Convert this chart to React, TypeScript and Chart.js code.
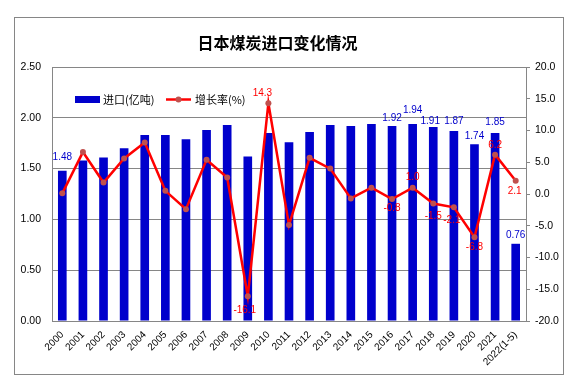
import React, { useEffect, useRef } from "react";
import { Chart, registerables } from "chart.js";

Chart.register(...registerables);

const categories = [
  "2000", "2001", "2002", "2003", "2004", "2005", "2006", "2007", "2008", "2009",
  "2010", "2011", "2012", "2013", "2014", "2015", "2016", "2017", "2018", "2019",
  "2020", "2021", "2022(1-5)",
];
const importValues = [
  1.48, 1.58, 1.61, 1.70, 1.83, 1.83, 1.79, 1.88, 1.93, 1.62,
  1.85, 1.76, 1.86, 1.93, 1.92, 1.94, 1.92, 1.94, 1.91, 1.87,
  1.74, 1.85, 0.76,
];
const growthRates = [
  0.1, 6.6, 1.8, 5.6, 8.1, 0.5, -2.4, 5.4, 2.6, -16.1,
  14.3, -4.9, 5.7, 4.0, -0.7, 1.0, -0.8, 1.0, -1.5, -2.1,
  -6.8, 6.2, 2.1,
];
const importLabelIdx = [0, 16, 17, 18, 19, 20, 21, 22];
const growthLabelIdx = [9, 10, 16, 17, 18, 19, 20, 21, 22];

const TITLE = "日本煤炭进口变化情况";
const BAR_LABEL = "进口(亿吨)";
const LINE_LABEL = "增长率(%)";

const GRAY = "#868686";
const BLUE = "#0000CC";
const RED = "#FF0000";
const MARKER = "#C0504D";
const FONT = "'Liberation Sans', Arial, sans-serif";
const CJK = "'Noto Sans CJK SC', sans-serif";

const decorPlugin = {
  id: "decor",
  beforeDraw(chart: any) {
    const ctx = chart.ctx;
    ctx.save();
    ctx.fillStyle = "#ffffff";
    ctx.fillRect(0, 0, chart.width, chart.height);
    ctx.strokeStyle = GRAY;
    ctx.lineWidth = 1;
    ctx.strokeRect(6.5, 9.5, 549, 357);
    ctx.fillStyle = "#000000";
    ctx.font = `bold 16px ${CJK}`;
    ctx.textAlign = "center";
    ctx.textBaseline = "middle";
    ctx.fillText(TITLE, 269.5, 35);
    ctx.restore();
  },
  afterDraw(chart: any) {
    const ctx = chart.ctx;
    ctx.save();
    // legend
    ctx.fillStyle = BLUE;
    ctx.fillRect(67, 88, 25, 7);
    ctx.fillStyle = "#000000";
    ctx.font = `11px ${CJK}`;
    ctx.textAlign = "left";
    ctx.textBaseline = "middle";
    ctx.fillText(BAR_LABEL, 95, 91.5);
    ctx.strokeStyle = RED;
    ctx.lineWidth = 2.5;
    ctx.beginPath();
    ctx.moveTo(158, 91.5);
    ctx.lineTo(183, 91.5);
    ctx.stroke();
    ctx.fillStyle = MARKER;
    ctx.beginPath();
    ctx.arc(170.5, 91.5, 3, 0, Math.PI * 2);
    ctx.fill();
    ctx.fillStyle = "#000000";
    ctx.fillText(LINE_LABEL, 187, 91.5);

    // value labels
    const barOffsets: Record<number, [number, number]> = {
      0: [0, 13], 16: [0, 8], 17: [0, 14], 18: [-3, 6], 19: [0, 10], 20: [0, 8], 21: [0, 11], 22: [0, 9],
    };
    const lineOffsets: Record<number, [number, number]> = {
      9: [-3, 14], 10: [-6, -10], 16: [0, 9], 17: [0, -10], 18: [0, 13], 19: [-2, 13], 20: [0, 10], 21: [0, -9], 22: [-1, 11],
    };
    ctx.font = `10px ${FONT}`;
    ctx.textAlign = "center";
    ctx.textBaseline = "middle";
    const barMeta = chart.getDatasetMeta(0);
    ctx.fillStyle = BLUE;
    importLabelIdx.forEach((i) => {
      const el = barMeta.data[i];
      const [dx, dy] = barOffsets[i];
      ctx.fillText(importValues[i].toFixed(2), el.x + dx, el.y - dy);
    });
    const lineMeta = chart.getDatasetMeta(1);
    ctx.fillStyle = RED;
    growthLabelIdx.forEach((i) => {
      const el = lineMeta.data[i];
      const [dx, dy] = lineOffsets[i];
      ctx.fillText(growthRates[i].toFixed(1), el.x + dx, el.y + dy);
    });
    ctx.restore();
  },
};

export default function App() {
  const ref = useRef<HTMLCanvasElement>(null);
  useEffect(() => {
    if (!ref.current) return;
    const chart = new Chart(ref.current, {
      type: "bar",
      data: {
        labels: categories,
        datasets: [
          {
            type: "bar",
            label: BAR_LABEL,
            data: importValues,
            backgroundColor: BLUE,
            barPercentage: 0.42,
            categoryPercentage: 1,
            yAxisID: "y",
            order: 2,
          },
          {
            type: "line",
            label: LINE_LABEL,
            data: growthRates,
            borderColor: RED,
            borderWidth: 2.5,
            pointRadius: 3,
            pointBackgroundColor: MARKER,
            pointBorderColor: MARKER,
            pointBorderWidth: 0,
            tension: 0,
            yAxisID: "y1",
            order: 1,
          },
        ],
      } as any,
      options: {
        responsive: false,
        animation: false,
        layout: { padding: { top: 59, left: 0, right: 0, bottom: 0 } },
        plugins: {
          legend: { display: false },
          title: { display: false },
          tooltip: { enabled: false },
        },
        scales: {
          x: {
            grid: { display: false, drawTicks: false },
            border: { display: true, color: GRAY },
            ticks: {
              autoSkip: false,
              maxRotation: 45,
              minRotation: 45,
              padding: 8,
              color: "#000000",
              font: { family: FONT, size: 10 },
            },
            afterFit: (s: any) => {
              s.height = 59;
            },
          },
          y: {
            position: "left",
            min: 0,
            max: 2.5,
            ticks: {
              stepSize: 0.5,
              padding: 11,
              color: "#000000",
              font: { family: FONT, size: 10.5 },
              callback: (v: any) => Number(v).toFixed(2),
            },
            grid: { color: GRAY, drawTicks: false },
            border: { display: true, color: GRAY },
            afterFit: (s: any) => {
              s.width = 44;
            },
          },
          y1: {
            position: "right",
            min: -20,
            max: 20,
            ticks: {
              stepSize: 5,
              padding: 5,
              color: "#000000",
              font: { family: FONT, size: 10.5 },
              callback: (v: any) => Number(v).toFixed(1),
            },
            grid: { drawOnChartArea: false, drawTicks: true, tickLength: 4, color: GRAY },
            border: { display: true, color: GRAY },
            afterFit: (s: any) => {
              s.width = 42;
            },
          },
        },
      } as any,
      plugins: [decorPlugin],
    });
    return () => chart.destroy();
  }, []);
  return (
    <div style={{ width: 560, height: 372 }}>
      <canvas ref={ref} width={560} height={372} style={{ display: "block" }} />
    </div>
  );
}
